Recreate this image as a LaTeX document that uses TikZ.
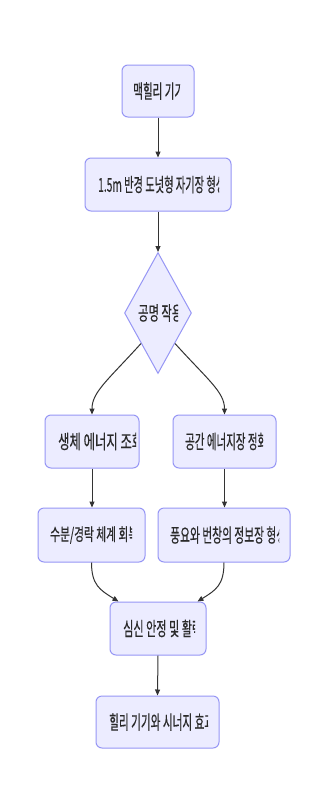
\documentclass[tikz,border=0pt]{standalone}
\usepackage{fontspec}
\setmainfont{Noto Sans CJK KR}
\newfontfamily\lblfont{Noto Sans CJK KR}[FakeBold=0.5]
\usetikzlibrary{shapes.geometric,arrows.meta,calc}
\definecolor{boxfill}{HTML}{ECECFF}
\definecolor{boxline}{HTML}{9696F5}
\definecolor{edgecol}{HTML}{333333}
\definecolor{txtcol}{HTML}{2A2A2A}
% \cliplabel{name}{xleft}{xclip}{ycenter}{fullwidth}{text}
\newcommand{\cliplabel}[6]{%
  \begin{scope}
    \clip (#2-2,#4-14) rectangle (#3,#4+14);
    \node[lbl,anchor=west] (#1) at (#2,#4) {\resizebox*{#5pt}{17.5pt}{\lblfont #6}};
  \end{scope}}
\begin{document}
\begin{tikzpicture}[x=1pt,y=-1pt,
  box/.style={draw=boxline,fill=boxfill,line width=1pt,rounded corners=6pt,inner sep=0pt},
  lbl/.style={inner sep=0pt,text=txtcol},
  edge/.style={draw=edgecol,line width=1pt,-{Triangle[length=6pt,width=5pt]}}]
\useasboundingbox (0,0) rectangle (316,801);
\fill[white] (0,0) rectangle (316,801);
% boxes
\node[box,minimum width=72pt,minimum height=52pt] (n1) at (158,91) {};
\node[box,minimum width=146pt,minimum height=53pt] (n2) at (158,184.5) {};
\node[draw=boxline,fill=boxfill,line width=1pt,shape=diamond,aspect=0.554,minimum width=67pt,minimum height=121pt,inner sep=0pt] (d) at (158,313) {};
\node[box,minimum width=94pt,minimum height=53pt] (n4) at (92,441.5) {};
\node[box,minimum width=103pt,minimum height=53pt] (n5) at (224.5,441.5) {};
\node[box,minimum width=107pt,minimum height=54pt] (n6) at (91.5,535) {};
\node[box,minimum width=132pt,minimum height=54pt] (n7) at (224,535) {};
\node[box,minimum width=96pt,minimum height=53pt] (n8) at (158,628.5) {};
\node[box,minimum width=123pt,minimum height=52pt] (n9) at (157.5,722) {};
% labels
\cliplabel{t1}{133}{180}{91}{51}{맥힐리 기기}
\cliplabel{t2}{98}{219}{184.5}{127}{1.5m 반경 도넛형 자기장 형성}
\cliplabel{t3}{138}{178}{313}{44}{공명 작용}
\cliplabel{t4}{58}{136}{441.5}{85}{생체 에너지 조화}
\cliplabel{t5}{185}{263}{441.5}{82}{공간 에너지장 정화}
\cliplabel{t6}{50}{132}{535}{88}{수분/경락 체계 회복}
\cliplabel{t7}{170}{279}{535}{116}{풍요와 번창의 정보장 형성}
\cliplabel{t8}{123}{195}{628.5}{79}{심신 안정 및 활력}
\cliplabel{t9}{109}{208}{722}{105}{힐리 기기와 시너지 효과}
% edges
\draw[edge] (n1.south) -- (n2.north);
\draw[edge] (n2.south) -- (d.north);
\draw[edge] (d.south west) .. controls (108,380) and (92,392) .. (n4.north);
\draw[edge] (d.south east) .. controls (208,380) and (224.5,392) .. (n5.north);
\draw[edge] (n4.south) -- (n4.south |- n6.north);
\draw[edge] (n5.south) -- (n5.south |- n7.north);
\draw[edge] (n6.south) .. controls (91.5,585) and (100,590) .. ($(n8.north west)+(9,0)$);
\draw[edge] (n7.south) .. controls (224,585) and (216,590) .. ($(n8.north east)+(-9,0)$);
\draw[edge] (n8.south) -- (n9.north);
\end{tikzpicture}
\end{document}
